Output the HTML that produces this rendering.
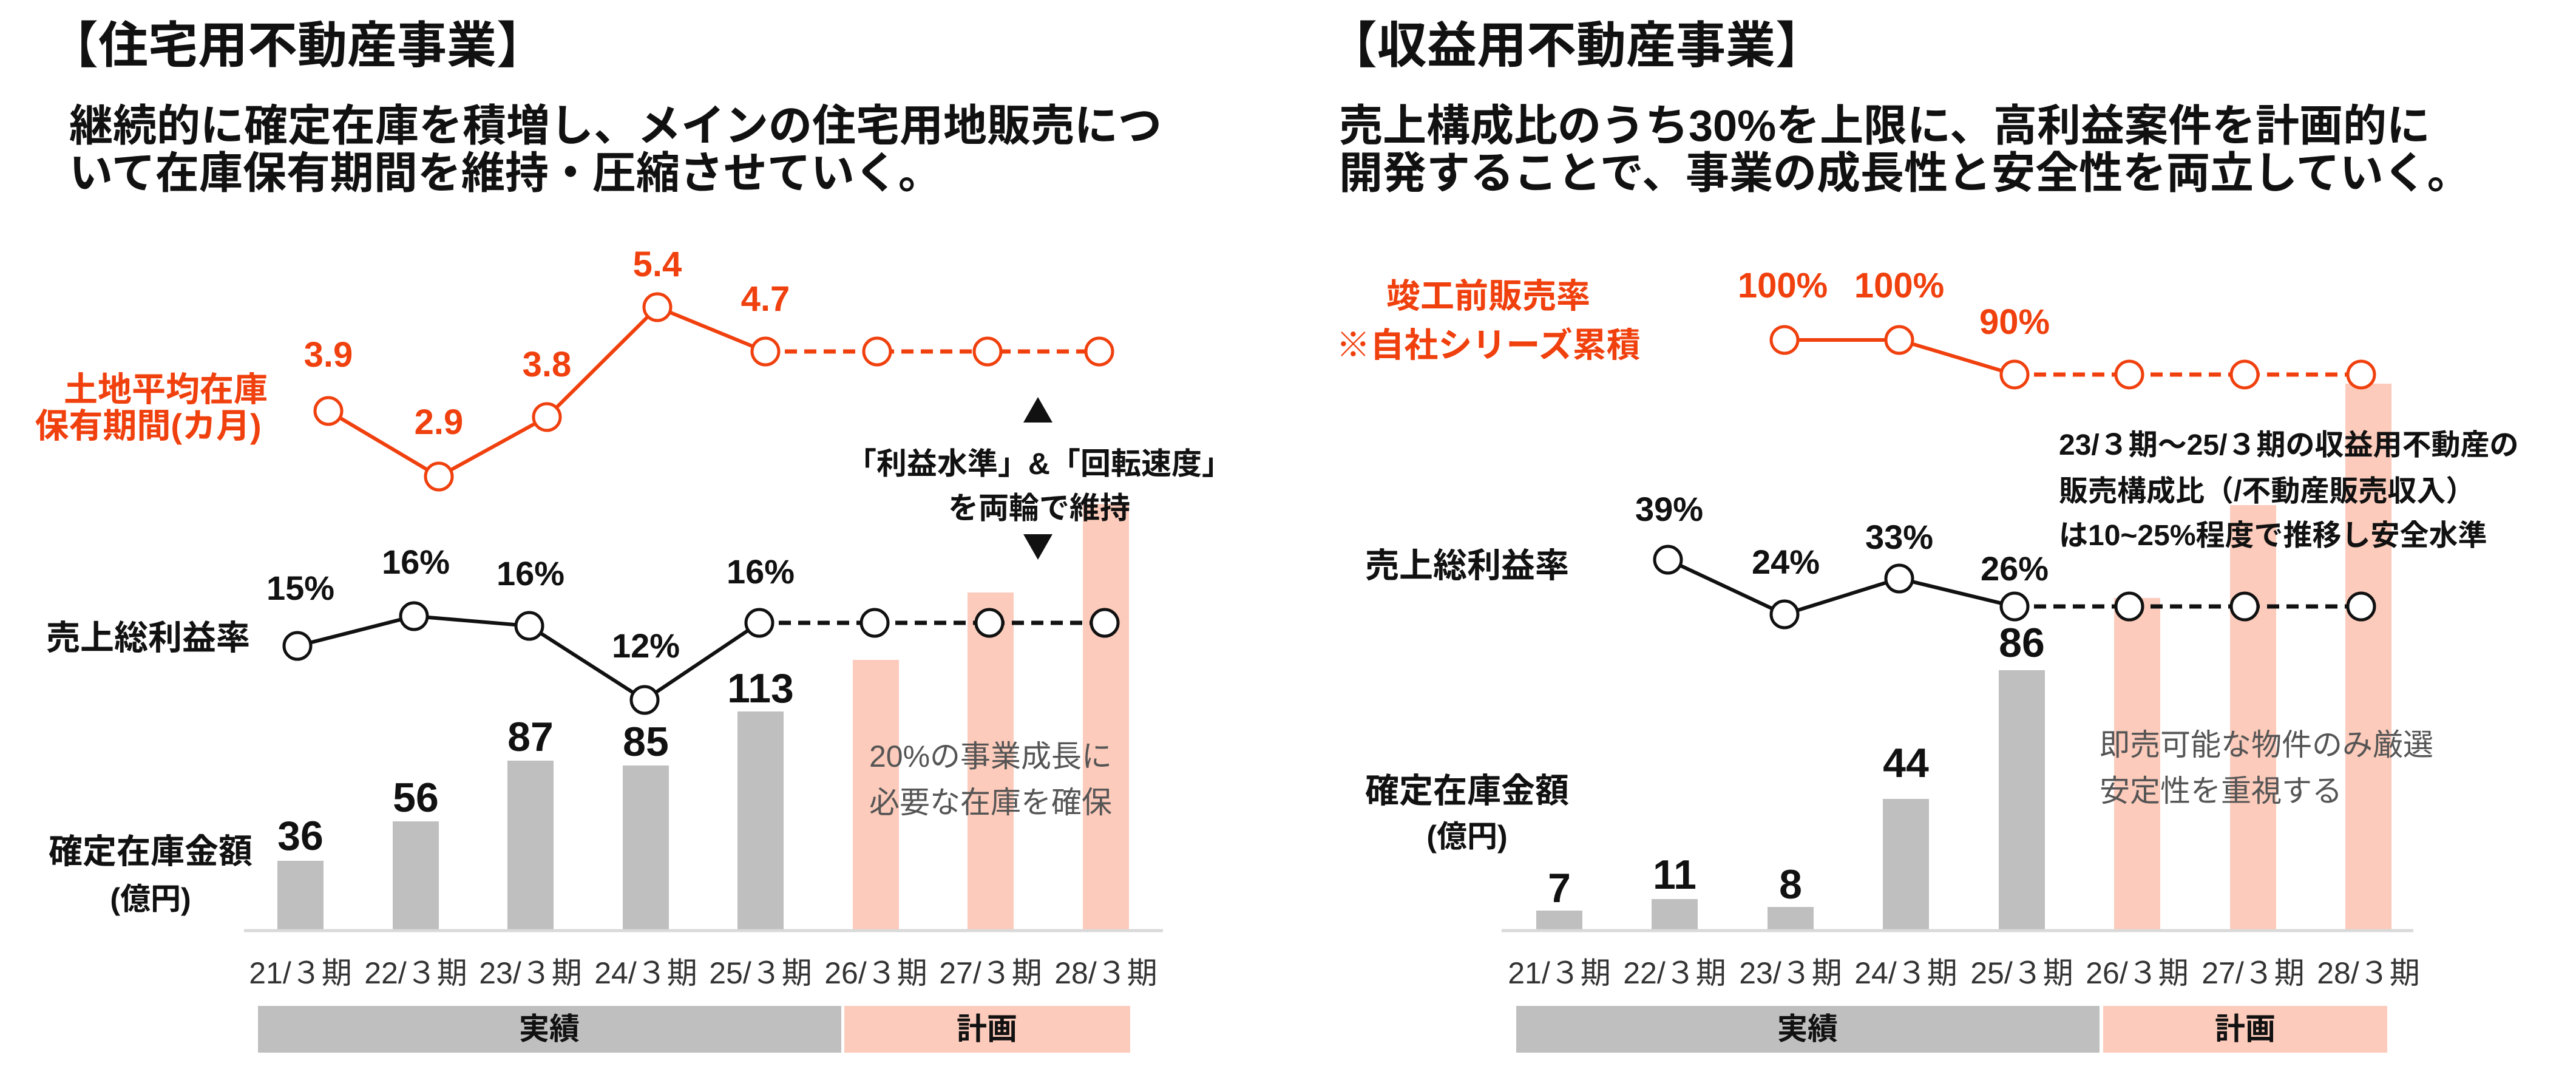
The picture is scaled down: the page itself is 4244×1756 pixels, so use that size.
<!DOCTYPE html>
<html><head><meta charset="utf-8"><style>
html,body{margin:0;padding:0;background:#fff;}
svg{display:block;}
text{font-family:"Liberation Sans","Noto Sans CJK JP",sans-serif;}
</style></head><body>
<svg width="4244" height="1756" viewBox="0 0 4244 1756" xmlns="http://www.w3.org/2000/svg">
<rect width="4244" height="1756" fill="#fff"/>
<!-- ===== LEFT PANEL ===== -->
<text x="80" y="103" font-size="82" font-weight="bold" fill="#111">【住宅用不動産事業】</text>
<text x="114" y="232" font-size="72" font-weight="bold" fill="#111">継続的に確定在庫を積増し、メインの住宅用地販売につ</text>
<text x="114" y="310" font-size="72" font-weight="bold" fill="#111">いて在庫保有期間を維持・圧縮させていく。</text>

<g fill="#BFBFBF">
<rect x="457" y="1418" width="76" height="114"/>
<rect x="647" y="1353" width="76" height="179"/>
<rect x="836" y="1253" width="76" height="279"/>
<rect x="1026" y="1261" width="76" height="271"/>
<rect x="1215" y="1172" width="76" height="360"/>
</g>
<g fill="#FCCBBB">
<rect x="1405" y="1087" width="76" height="445"/>
<rect x="1594" y="976" width="76" height="556"/>
<rect x="1784" y="830" width="76" height="702"/>
</g>
<line x1="402" y1="1533" x2="1916" y2="1533" stroke="#D9D9D9" stroke-width="5"/>
<g font-size="68" font-weight="bold" fill="#111" text-anchor="middle">
<text x="495" y="1400">36</text>
<text x="685" y="1337">56</text>
<text x="874" y="1237">87</text>
<text x="1064" y="1245">85</text>
<text x="1253" y="1157">113</text>
</g>
<g font-size="50" fill="#333" text-anchor="middle">
<text x="495" y="1620">21/３期</text><text x="685" y="1620">22/３期</text>
<text x="874" y="1620">23/３期</text><text x="1064" y="1620">24/３期</text>
<text x="1253" y="1620">25/３期</text><text x="1443" y="1620">26/３期</text>
<text x="1632" y="1620">27/３期</text><text x="1822" y="1620">28/３期</text>
</g>
<rect x="425" y="1657" width="961" height="77" fill="#BFBFBF"/>
<rect x="1391" y="1657" width="471" height="77" fill="#FCCBBB"/>
<text x="905" y="1712" font-size="50" font-weight="bold" fill="#111" text-anchor="middle">実績</text>
<text x="1626" y="1712" font-size="50" font-weight="bold" fill="#111" text-anchor="middle">計画</text>

<g stroke="#F0400E" stroke-width="6" fill="none">
<polyline points="541,677 723,785 901,687 1083,506 1261,579"/>
<line x1="1261" y1="579" x2="1811" y2="579" stroke-dasharray="20,12" stroke-width="7"/>
</g>
<g stroke="#F0400E" stroke-width="5" fill="#fff">
<circle cx="541" cy="677" r="22"/><circle cx="723" cy="785" r="22"/><circle cx="901" cy="687" r="22"/>
<circle cx="1083" cy="506" r="22"/><circle cx="1261" cy="579" r="22"/><circle cx="1445" cy="579" r="22"/>
<circle cx="1627" cy="579" r="22"/><circle cx="1811" cy="579" r="22"/>
</g>
<g font-size="58" font-weight="bold" fill="#F0400E" text-anchor="middle">
<text x="541" y="604">3.9</text><text x="723" y="715">2.9</text><text x="901" y="620">3.8</text>
<text x="1083" y="455">5.4</text><text x="1261" y="512">4.7</text>
</g>
<g font-size="56" font-weight="bold" fill="#F0400E" text-anchor="middle">
<text x="273" y="661">土地平均在庫</text><text x="244" y="721">保有期間(カ月)</text>
</g>

<g stroke="#111" stroke-width="6" fill="none">
<polyline points="490,1064 682,1015 872,1031 1062,1153 1251,1026"/>
<line x1="1251" y1="1026" x2="1820" y2="1026" stroke-dasharray="20,12" stroke-width="7"/>
</g>
<g stroke="#111" stroke-width="5" fill="#fff">
<circle cx="490" cy="1064" r="22"/><circle cx="682" cy="1015" r="22"/><circle cx="872" cy="1031" r="22"/>
<circle cx="1062" cy="1153" r="22"/><circle cx="1251" cy="1026" r="22"/><circle cx="1441" cy="1026" r="22"/>
<circle cx="1630" cy="1026" r="22"/><circle cx="1820" cy="1026" r="22"/>
</g>
<g font-size="56" font-weight="bold" fill="#111" text-anchor="middle">
<text x="495" y="988">15%</text><text x="685" y="945">16%</text><text x="874" y="964">16%</text>
<text x="1064" y="1083">12%</text><text x="1253" y="961">16%</text>
</g>
<g font-size="56" font-weight="bold" fill="#111" text-anchor="middle">
<text x="244" y="1070">売上総利益率</text>
<text x="248" y="1422">確定在庫金額</text>
<text x="248" y="1498" font-size="50">(億円)</text>
</g>
<g fill="#111">
<polygon points="1686,696 1734,696 1710,654"/>
<polygon points="1686,880 1734,880 1710,922"/>
</g>
<g font-size="50" font-weight="bold" fill="#111" text-anchor="middle">
<text x="1712" y="781">「利益水準」&amp;「回転速度」</text>
<text x="1712" y="854">を両輪で維持</text>
</g>
<g font-size="50" fill="#555" text-anchor="middle">
<text x="1632" y="1263">20%の事業成長に</text>
<text x="1632" y="1339">必要な在庫を確保</text>
</g>

<!-- ===== RIGHT PANEL ===== -->
<text x="2187" y="103" font-size="82" font-weight="bold" fill="#111">【収益用不動産事業】</text>
<text x="2206" y="232" font-size="72" font-weight="bold" fill="#111">売上構成比のうち30%を上限に、高利益案件を計画的に</text>
<text x="2206" y="310" font-size="72" font-weight="bold" fill="#111">開発することで、事業の成長性と安全性を両立していく。</text>

<g fill="#BFBFBF">
<rect x="2531" y="1500" width="76" height="32"/>
<rect x="2721" y="1481" width="76" height="51"/>
<rect x="2912" y="1494" width="76" height="38"/>
<rect x="3102" y="1316" width="76" height="216"/>
<rect x="3293" y="1104" width="76" height="428"/>
</g>
<g fill="#FCCBBB">
<rect x="3483" y="985" width="76" height="547"/>
<rect x="3674" y="832" width="76" height="700"/>
<rect x="3864" y="632" width="76" height="900"/>
</g>
<line x1="2474" y1="1533" x2="3976" y2="1533" stroke="#D9D9D9" stroke-width="5"/>
<g font-size="68" font-weight="bold" fill="#111" text-anchor="middle">
<text x="2569" y="1486">7</text>
<text x="2759" y="1464">11</text>
<text x="2950" y="1480">8</text>
<text x="3140" y="1280">44</text>
<text x="3331" y="1082">86</text>
</g>
<g font-size="50" fill="#333" text-anchor="middle">
<text x="2569" y="1620">21/３期</text><text x="2759" y="1620">22/３期</text>
<text x="2950" y="1620">23/３期</text><text x="3140" y="1620">24/３期</text>
<text x="3331" y="1620">25/３期</text><text x="3521" y="1620">26/３期</text>
<text x="3712" y="1620">27/３期</text><text x="3902" y="1620">28/３期</text>
</g>
<rect x="2498" y="1657" width="961" height="77" fill="#BFBFBF"/>
<rect x="3465" y="1657" width="468" height="77" fill="#FCCBBB"/>
<text x="2978" y="1712" font-size="50" font-weight="bold" fill="#111" text-anchor="middle">実績</text>
<text x="3699" y="1712" font-size="50" font-weight="bold" fill="#111" text-anchor="middle">計画</text>

<g stroke="#F0400E" stroke-width="6" fill="none">
<polyline points="2940,560 3129,560 3319,617"/>
<line x1="3319" y1="617" x2="3890" y2="617" stroke-dasharray="20,12" stroke-width="7"/>
</g>
<g stroke="#F0400E" stroke-width="5" fill="#fff">
<circle cx="2940" cy="560" r="22"/><circle cx="3129" cy="560" r="22"/><circle cx="3319" cy="617" r="22"/>
<circle cx="3508" cy="617" r="22"/><circle cx="3698" cy="617" r="22"/><circle cx="3890" cy="617" r="22"/>
</g>
<g font-size="58" font-weight="bold" fill="#F0400E" text-anchor="middle">
<text x="2937" y="490">100%</text><text x="3129" y="490">100%</text><text x="3319" y="550">90%</text>
</g>
<g font-size="56" font-weight="bold" fill="#F0400E" text-anchor="middle">
<text x="2452" y="507">竣工前販売率</text><text x="2452" y="588">※自社シリーズ累積</text>
</g>

<g stroke="#111" stroke-width="6" fill="none">
<polyline points="2748,922 2940,1012 3129,953 3319,999"/>
<line x1="3319" y1="999" x2="3890" y2="999" stroke-dasharray="20,12" stroke-width="7"/>
</g>
<g stroke="#111" stroke-width="5" fill="#fff">
<circle cx="2748" cy="922" r="22"/><circle cx="2940" cy="1012" r="22"/><circle cx="3129" cy="953" r="22"/>
<circle cx="3319" cy="999" r="22"/><circle cx="3508" cy="999" r="22"/><circle cx="3698" cy="999" r="22"/>
<circle cx="3890" cy="999" r="22"/>
</g>
<g font-size="56" font-weight="bold" fill="#111" text-anchor="middle">
<text x="2750" y="858">39%</text><text x="2942" y="945">24%</text><text x="3129" y="904">33%</text>
<text x="3319" y="956">26%</text>
</g>
<g font-size="56" font-weight="bold" fill="#111" text-anchor="middle">
<text x="2417" y="951">売上総利益率</text>
<text x="2417" y="1322">確定在庫金額</text>
<text x="2417" y="1395" font-size="50">(億円)</text>
</g>
<g font-size="48" font-weight="bold" fill="#111">
<text x="3392" y="749">23/３期～25/３期の収益用不動産の</text>
<text x="3392" y="825">販売構成比（/不動産販売収入）</text>
<text x="3392" y="898">は10~25%程度で推移し安全水準</text>
</g>
<g font-size="50" fill="#555">
<text x="3459" y="1244">即売可能な物件のみ厳選</text>
<text x="3459" y="1320">安定性を重視する</text>
</g>
</svg>
</body></html>
